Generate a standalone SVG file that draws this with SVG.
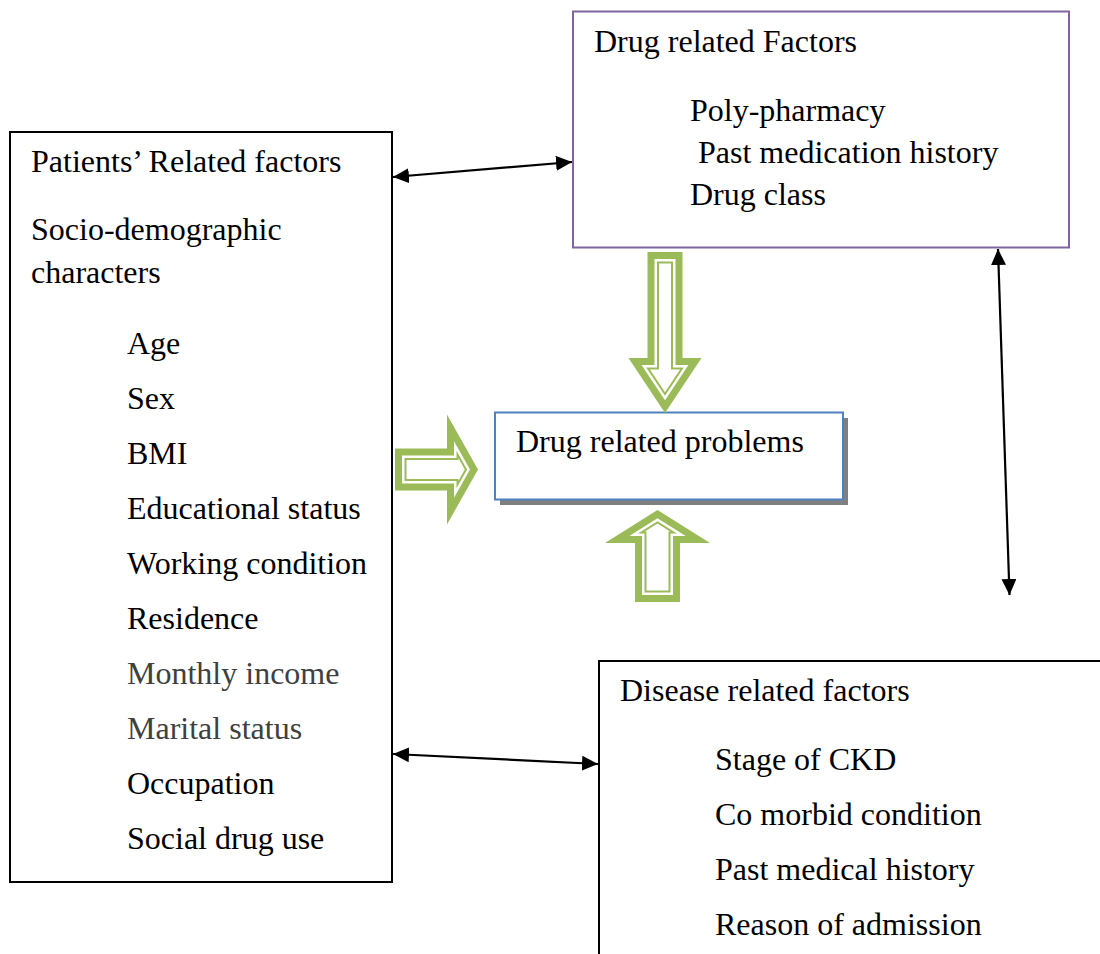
<svg xmlns="http://www.w3.org/2000/svg" width="1100" height="954" viewBox="0 0 1100 954">
<defs>
<style>
.t{font-family:"Liberation Serif","Times New Roman",serif;font-size:32px;fill:#000}
.g{fill:#404040}
.box{fill:#fff;stroke:#000;stroke-width:2}
.conn{stroke:#000;stroke-width:2.2;fill:none;marker-start:url(#ah);marker-end:url(#ah)}
.ga{fill:#9BBB59}
.wa{fill:#fff}
</style>
<marker id="ah" viewBox="0 0 16 15" refX="16" refY="7.5" markerWidth="16" markerHeight="15" markerUnits="userSpaceOnUse" orient="auto-start-reverse">
<path d="M0,0 L16,7.5 L0,15 z" fill="#000"/>
</marker>
</defs>
<rect width="1100" height="954" fill="#fff"/>

<g id="patients">
<rect class="box" x="10" y="132" width="382" height="750"/>
<text class="t" x="31" y="172">Patients’ Related factors</text>
<text class="t" x="31" y="240">Socio-demographic</text>
<text class="t" x="31" y="283">characters</text>
<text class="t" x="127" y="354">Age</text>
<text class="t" x="127" y="409">Sex</text>
<text class="t" x="127" y="464">BMI</text>
<text class="t" x="127" y="519">Educational status</text>
<text class="t" x="127" y="574">Working condition</text>
<text class="t" x="127" y="629">Residence</text>
<text class="t g" x="127" y="684">Monthly income</text>
<text class="t g" x="127" y="739">Marital status</text>
<text class="t" x="127" y="794">Occupation</text>
<text class="t" x="127" y="849">Social drug use</text>
</g>

<g id="drug-factors">
<rect x="573" y="11.5" width="496" height="236" fill="#fff" stroke="#8064A2" stroke-width="2"/>
<text class="t" x="594" y="52">Drug related Factors</text>
<text class="t" x="690" y="121">Poly-pharmacy</text>
<text class="t" x="698" y="163">Past medication history</text>
<text class="t" x="690" y="205">Drug class</text>
</g>

<g id="disease-factors">
<rect class="box" x="599" y="661" width="520" height="320"/>
<text class="t" x="620" y="701">Disease related factors</text>
<text class="t" x="715" y="770">Stage of CKD</text>
<text class="t" x="715" y="825">Co morbid condition</text>
<text class="t" x="715" y="880">Past medical history</text>
<text class="t" x="715" y="935">Reason of admission</text>
</g>

<g id="drug-problems">
<rect x="500" y="418" width="348" height="87" fill="#808080"/>
<rect x="495" y="412.5" width="348" height="87" fill="#fff" stroke="#4F81BD" stroke-width="2"/>
<text class="t" x="516" y="452">Drug related problems</text>
</g>

<g id="arrow-down">
<polygon class="ga" points="647.5,252 682.5,252 682.5,358 701.5,358 665,413 628.5,358 647.5,358"/>
<polygon class="wa" points="654.5,259 675.5,259 675.5,365 688.45,365 665,400.34 641.55,365 654.5,365"/>
<polygon class="ga" points="657,261.5 673,261.5 673,367.5 683.79,367.5 665,395.82 646.21,367.5 657,367.5"/>
<polygon class="wa" points="659,263.5 671,263.5 671,369.5 680.07,369.5 665,392.2 649.93,369.5 659,369.5"/>
</g>

<g id="arrow-up">
<polygon class="ga" points="635,602 680,602 680,543 710,543 657.5,510 605,543 635,543"/>
<polygon class="wa" points="642,595 673,595 673,536 685.71,536 657.5,518.27 629.29,536 642,536"/>
<polygon class="ga" points="644.5,592.5 670.5,592.5 670.5,533.5 677.03,533.5 657.5,521.22 637.97,533.5 644.5,533.5"/>
<polygon class="wa" points="646.5,590.5 668.5,590.5 668.5,531.5 670.1,531.5 657.5,523.58 644.9,531.5 646.5,531.5"/>
</g>

<g id="arrow-right">
<polygon class="ga" points="395,448.5 447,448.5 447,414.5 478,469.5 447,524.5 447,490.5 395,490.5"/>
<polygon class="wa" points="402,455.5 454,455.5 454,441.18 469.97,469.5 454,497.82 454,483.5 402,483.5"/>
<polygon class="ga" points="404.5,458 456.5,458 456.5,450.7 467.1,469.5 456.5,488.3 456.5,481 404.5,481"/>
<polygon class="wa" points="406.5,460 458.5,460 458.5,458.32 464.8,469.5 458.5,480.68 458.5,479 406.5,479"/>
</g>

<g id="connectors">
<line class="conn" x1="393" y1="177" x2="572" y2="162"/>
<line class="conn" x1="998" y1="249" x2="1009.5" y2="595"/>
<line class="conn" x1="393" y1="754" x2="598" y2="764"/>
</g>
</svg>
